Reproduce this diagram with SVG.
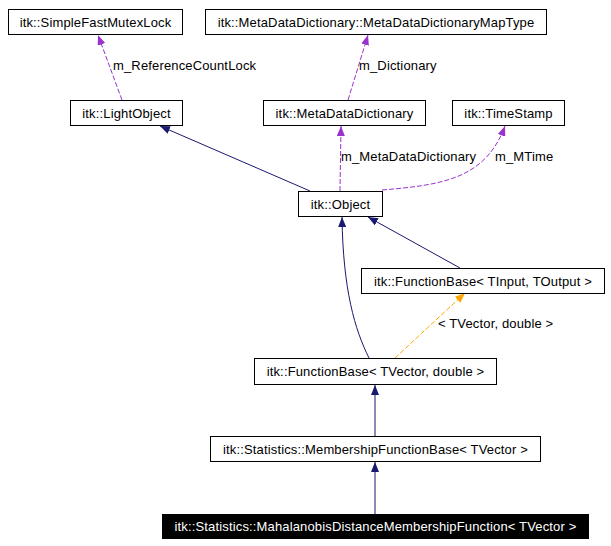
<svg xmlns="http://www.w3.org/2000/svg" width="611" height="546" viewBox="0 0 611 546">
<style>
  .box rect { fill: #fff; stroke: #000; stroke-width: 1; }
  .box text { font-family: "Liberation Sans", Arial, sans-serif; font-size: 13px; letter-spacing: 0.15px; text-anchor: middle; fill: #000; }
  .lbl { font-family: "Liberation Sans", Arial, sans-serif; font-size: 13px; letter-spacing: 0.15px; fill: #000; }
  #n10 rect { fill: #000; }
  #n10 text { fill: #fff; }
  .inh { fill: none; stroke: #191970; stroke-width: 1; marker-end: url(#aNavy); }
  .use { fill: none; stroke: #9a32cd; stroke-width: 1; stroke-dasharray: 5,2; marker-end: url(#aPurple); }
  .tpl { fill: none; stroke: #ffa500; stroke-width: 1; stroke-dasharray: 5,2; marker-end: url(#aOrange); }
</style>
<defs>
  <marker id="aNavy" viewBox="0 0 10 8" refX="10" refY="4" markerWidth="10" markerHeight="8" markerUnits="userSpaceOnUse" orient="auto">
    <path d="M0,0 L10,4 L0,8 z" fill="#191970"/>
  </marker>
  <marker id="aPurple" viewBox="0 0 10 8" refX="10" refY="4" markerWidth="10" markerHeight="8" markerUnits="userSpaceOnUse" orient="auto">
    <path d="M0,0 L10,4 L0,8 z" fill="#9a32cd"/>
  </marker>
  <marker id="aOrange" viewBox="0 0 10 8" refX="10" refY="4" markerWidth="10" markerHeight="8" markerUnits="userSpaceOnUse" orient="auto">
    <path d="M0,0 L10,4 L0,8 z" fill="#ffa500"/>
  </marker>
</defs>
<rect x="0" y="0" width="611" height="546" fill="#fff"/>
<g id="edges">
  <path class="use" d="M122,100 L98,35"/>
  <path class="use" d="M348,100 L368,35"/>
  <path class="inh" d="M310,191 L160,126"/>
  <path class="use" d="M340,191 L341,126"/>
  <path class="use" d="M382,190 C440,185 485,180 505,126"/>
  <path class="inh" d="M460,268 L368,217"/>
  <path class="inh" d="M369,358 C355,330 343,290 342,217"/>
  <path class="tpl" d="M395,358 L465,293"/>
  <path class="inh" d="M375,436 L375,385"/>
  <path class="inh" d="M375,514 L375,462"/>
  <text class="lbl" x="113" y="70">m_ReferenceCountLock</text>
  <text class="lbl" x="359" y="70">m_Dictionary</text>
  <text class="lbl" x="341" y="161">m_MetaDataDictionary</text>
  <text class="lbl" x="495" y="161">m_MTime</text>
  <text class="lbl" x="438" y="328">&lt; TVector, double &gt;</text>
</g>
<g id="n1" class="box"><rect x="8.5" y="9.5" width="174" height="25"/><text x="95.5" y="26.5">itk::SimpleFastMutexLock</text></g>
<g id="n2" class="box"><rect x="205.5" y="9.5" width="341" height="25"/><text x="376" y="26.5">itk::MetaDataDictionary::MetaDataDictionaryMapType</text></g>
<g id="n3" class="box"><rect x="70.5" y="100.5" width="112" height="25"/><text x="126.5" y="117.5">itk::LightObject</text></g>
<g id="n4" class="box"><rect x="263.5" y="100.5" width="162" height="25"/><text x="344.5" y="117.5">itk::MetaDataDictionary</text></g>
<g id="n5" class="box"><rect x="452.5" y="100.5" width="112" height="25"/><text x="508.5" y="117.5">itk::TimeStamp</text></g>
<g id="n6" class="box"><rect x="298.5" y="191.5" width="84" height="25"/><text x="340.5" y="208.5">itk::Object</text></g>
<g id="n7" class="box"><rect x="361.5" y="268.5" width="243" height="25"/><text x="483" y="285.5">itk::FunctionBase&lt; TInput, TOutput &gt;</text></g>
<g id="n8" class="box"><rect x="254.5" y="358.5" width="242" height="26"/><text x="375.5" y="376">itk::FunctionBase&lt; TVector, double &gt;</text></g>
<g id="n9" class="box"><rect x="210.5" y="436.5" width="330" height="25"/><text x="375.5" y="453.5">itk::Statistics::MembershipFunctionBase&lt; TVector &gt;</text></g>
<g id="n10" class="box"><rect x="162.5" y="514.5" width="426" height="24"/><text x="375.5" y="531">itk::Statistics::MahalanobisDistanceMembershipFunction&lt; TVector &gt;</text></g>
</svg>
